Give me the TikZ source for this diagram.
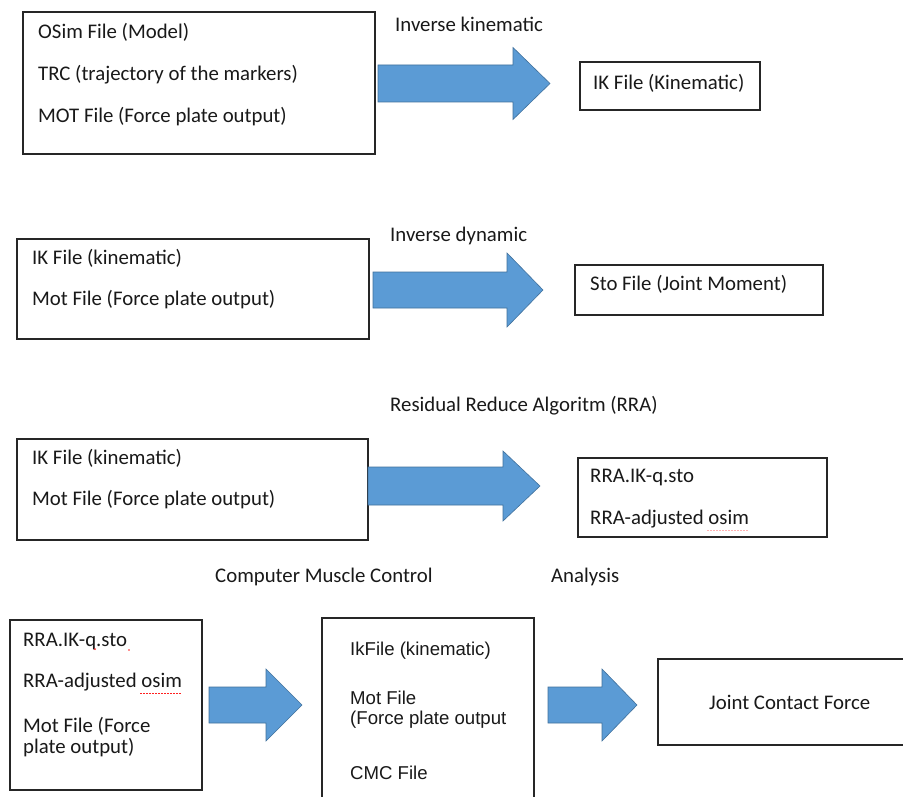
\documentclass[tikz,border=0pt]{standalone}
\usepackage{fontspec}
\setmainfont{Carlito}
\newfontfamily\arialf{Liberation Sans}
\definecolor{arrowfill}{HTML}{5B9BD5}
\definecolor{arrowline}{HTML}{41719C}
\definecolor{squig}{HTML}{FF2020}
\tikzset{
  boxframe/.style={draw=black!85, line width=1.2pt, fill=white},
  txt/.style={anchor=west, inner sep=0pt, text=black!90, font=\fontsize{20.8}{24}\selectfont},
  atxt/.style={anchor=west, inner sep=0pt, text=black!90, font=\arialf\fontsize{18.6}{22}\selectfont},
  blockarrow/.style={fill=arrowfill, draw=arrowline, line width=0.6pt, line join=miter},
  spellmark/.style={draw=squig, line width=1pt, dash pattern=on 1.5pt off 1.5pt},
}
% #1 name prefix, #2 x0, #3 x1 (head base), #4 tip x, #5 yc, #6 body half height, #7 head half height
\newcommand{\myblockarrow}[7]{%
  \coordinate (#1s) at (#2,#5);
  \coordinate (#1t) at (#4,#5);
  \draw[blockarrow] (#2,#5-#6) -- (#3,#5-#6) -- (#3,#5-#7) -- (#1t) -- (#3,#5+#7) -- (#3,#5+#6) -- (#2,#5+#6) -- cycle;
}
\begin{document}
\begin{tikzpicture}[x=1pt,y=-1pt]
\useasboundingbox (0,0) rectangle (903,797);
\clip (0,0) rectangle (903,797);
\fill[white] (0,0) rectangle (903,797);

% ---------- Row 1 ----------
\draw[boxframe] (23,12) rectangle (375,154);
\node[txt] (r1a) at (38,32) {OSim File (Model)};
\node[txt] (r1b) at (38,75) {TRC (trajectory of the markers)};
\node[txt] (r1c) at (38,117) {MOT File (Force plate output)};
\myblockarrow{a1}{378}{513}{550}{83.5}{18.5}{36}
\node[txt] (l1) at (395,24) {Inverse kinematic};
\draw[boxframe] (580,62) rectangle (760,110);
\node[txt] (o1) at (593,83) {IK File (Kinematic)};

% ---------- Row 2 ----------
\draw[boxframe] (17,239) rectangle (369,339);
\node[txt] (r2a) at (32,258) {IK File (kinematic)};
\node[txt] (r2b) at (32,300) {Mot File (Force plate output)};
\myblockarrow{a2}{373}{507}{543}{290}{18}{37}
\node[txt] (l2) at (390,236) {Inverse dynamic};
\draw[boxframe] (575,265) rectangle (823,315);
\node[txt] (o2) at (590,284) {Sto File (Joint Moment)};

% ---------- Row 3 ----------
\draw[boxframe] (17,439) rectangle (368,540);
\node[txt] (r3a) at (32,458) {IK File (kinematic)};
\node[txt] (r3b) at (32,500) {Mot File (Force plate output)};
\myblockarrow{a3}{368}{503}{540}{486}{19}{35}
\node[txt] (l3) at (390,406) {Residual Reduce Algoritm (RRA)};
\draw[boxframe] (578,458) rectangle (827,537);
\node[txt] (o3a) at (590,478) {RRA.IK-q.sto};
\node[txt] (o3b) at (590,519) {RRA-adjusted osim};
\draw[spellmark, draw opacity=0.35] ([yshift=-2pt]o3b.south east) ++(-42,0) -- ++(42,0);

% ---------- Row 4 ----------
\node[txt] (l4a) at (215,577) {Computer Muscle Control};
\node[txt] (l4b) at (551,577) {Analysis};
\draw[boxframe] (10,620) rectangle (202,790);
\node[txt] (r4a) at (23,641) {RRA.IK-q.sto};
\node[txt] (r4b) at (23,682) {RRA-adjusted osim};
\node[txt] (r4c) at (23,726) {Mot File (Force};
\node[txt] (r4d) at (23,748) {plate output)};
\fill[squig] (95,649) circle (1pt);
\fill[squig] (129,650) circle (0.8pt);
\draw[spellmark] ([yshift=-2pt]r4b.south east) ++(-42,0) -- ++(42,0);
\myblockarrow{a4}{209}{266}{302}{705}{18}{36}
\draw[boxframe] (322,618) rectangle (534,810);
\node[atxt] (m4a) at (350,651) {IkFile (kinematic)};
\node[atxt] (m4b) at (350,698) {Mot File};
\node[atxt] (m4c) at (350,720) {(Force plate output};
\node[atxt] (m4d) at (350,773) {CMC File};
\myblockarrow{a5}{548}{602}{637}{705}{18}{36}
\draw[boxframe] (658,659) rectangle (920,745);
\node[txt] (o4) at (709,702) {Joint Contact Force};
\end{tikzpicture}
\end{document}
